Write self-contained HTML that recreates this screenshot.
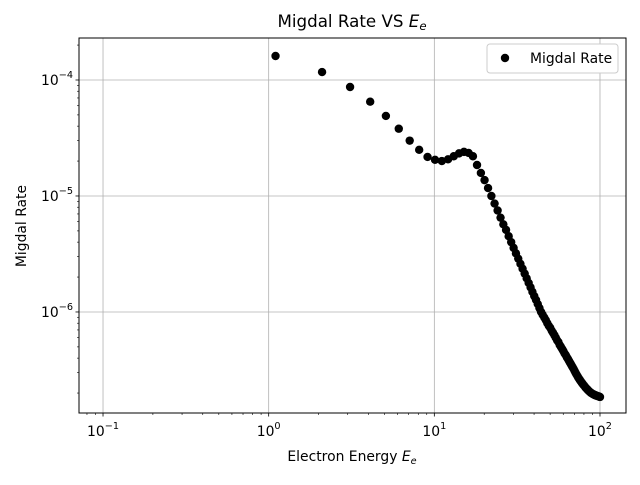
<!DOCTYPE html>
<html><head><meta charset="utf-8"><style>
body{margin:0;background:#fff}
svg text{font-family:"DejaVu Sans","Liberation Sans",sans-serif;fill:#000}
</style></head><body>
<svg id="chart" width="640" height="480" viewBox="0 0 640 480" xmlns="http://www.w3.org/2000/svg">
<rect width="640" height="480" fill="#fff"/>
<g id="grid"></g>
<g id="ticks"></g>
<g id="points"></g>
<rect x="79" y="38" width="547" height="375" fill="none" stroke="#000" stroke-width="1"/>
<text x="352" y="27" font-size="16.7" text-anchor="middle">Migdal Rate VS <tspan font-style="italic">E</tspan><tspan font-style="italic" font-size="11.7" dy="3">e</tspan></text>
<text x="352" y="461" font-size="13.9" text-anchor="middle">Electron Energy <tspan font-style="italic">E</tspan><tspan font-style="italic" font-size="9.7" dy="3">e</tspan></text>
<text transform="translate(26,226) rotate(-90)" font-size="13.9" text-anchor="middle">Migdal Rate</text>
<g>
<rect x="487" y="44" width="131" height="29" rx="3" fill="#fff" stroke="#ccc"/>
<circle cx="505" cy="58" r="4.2" fill="#000"/>
<text x="530" y="63" font-size="13.9">Migdal Rate</text>
</g>
</svg>
<script>
const xVals=[1.1,2.1,3.1,4.1,5.1,6.1,7.1,8.1,9.1,10.1,11.1,12.1,13.1,14.1,15.1,16.1,17.1,18.1,19.1,20.1,21.1,22.1,23.1,24.1,25.1,26.1,27.1,28.1,29.1,30.1,31.1,32.1,33.1,34.1,35.1,36.1,37.1,38.1,39.1,40.1,41.1,42.1,43.1,44.1,45.1,46.1,47.1,48.1,49.1,50.1,51.1,52.1,53.1,54.1,55.1,56.1,57.1,58.1,59.1,60.1,61.1,62.1,63.1,64.1,65.1,66.1,67.1,68.1,69.1,70.1,71.1,72.1,73.1,74.1,75.1,76.1,77.1,78.1,79.1,80.1,81.1,82.1,83.1,84.1,85.1,86.1,87.1,88.1,89.1,90.1,91.1,92.1,93.1,94.1,95.1,96.1,97.1,98.1,99.1,100];
const rateVals=[1.61e-4,1.17e-4,8.7e-5,6.5e-5,4.9e-5,3.8e-5,3.0e-5,2.5e-5,2.17e-5,2.05e-5,2.0e-5,2.07e-5,2.2e-5,2.33e-5,2.4e-5,2.35e-5,2.2e-5,1.85e-5,1.58e-5,1.37e-5,1.17e-5,1.0e-5,8.6e-6,7.5e-6,6.5e-6,5.7e-6,5.1e-6,4.5e-6,4.0e-6,3.57e-6,3.2e-6,2.88e-6,2.6e-6,2.36e-6,2.14e-6,1.95e-6,1.78e-6,1.63e-6,1.49e-6,1.37e-6,1.27e-6,1.17e-6,1.08e-6,1.0e-6,9.45e-7,8.95e-7,8.5e-7,8.0e-7,7.6e-7,7.3e-7,6.9e-7,6.6e-7,6.3e-7,6.0e-7,5.7e-7,5.5e-7,5.2e-7,5.0e-7,4.8e-7,4.6e-7,4.4e-7,4.25e-7,4.07e-7,3.92e-7,3.77e-7,3.63e-7,3.5e-7,3.37e-7,3.25e-7,3.12e-7,3.0e-7,2.9e-7,2.8e-7,2.71e-7,2.63e-7,2.56e-7,2.49e-7,2.43e-7,2.37e-7,2.32e-7,2.27e-7,2.22e-7,2.18e-7,2.14e-7,2.1e-7,2.07e-7,2.04e-7,2.01e-7,1.99e-7,1.97e-7,1.95e-7,1.94e-7,1.92e-7,1.91e-7,1.9e-7,1.89e-7,1.88e-7,1.87e-7,1.86e-7,1.85e-7];
const xTickExps=[-1,0,1,2];
const yTickExps=[-4,-5,-6];
const NS="http://www.w3.org/2000/svg";
const L=79,R=626,T=38,B=413;
const xMin=-1.145,xMax=2.157,yMin=-6.871,yMax=-3.638;
function xs(v){return L+(Math.log10(v)-xMin)/(xMax-xMin)*(R-L);}
function ys(v){return B-(Math.log10(v)-yMin)/(yMax-yMin)*(B-T);}
function mk(tag,a,parent){const e=document.createElementNS(NS,tag);for(const k in a)e.setAttribute(k,a[k]);parent.appendChild(e);return e;}
const grid=document.getElementById('grid'),ticks=document.getElementById('ticks'),pts=document.getElementById('points');
xTickExps.forEach(ex=>{
  const x=xs(Math.pow(10,ex));
  const g=mk('line',{x1:x,x2:x,y1:T,y2:B,stroke:'#b0b0b0','stroke-width':0.8},grid);
  
  
  const t=mk('line',{x1:x,x2:x,y1:B,y2:B+3.5,stroke:'#000','stroke-width':0.8},ticks);
  
  
  const lb=mk('text',{x:x,y:B+23,'font-size':13.9,'text-anchor':'middle'},ticks);
  
  
  lb.innerHTML='10<tspan font-size="9.7" dy="-7">'+(ex<0?'−'+(-ex):ex)+'</tspan>';
});
for(let ex=-2;ex<=2;ex++)for(let m=2;m<=9;m++){const v=m*Math.pow(10,ex);const x=xs(v);if(x<L||x>R)continue;
  const t=mk('line',{x1:x,x2:x,y1:B,y2:B+2,stroke:'#000','stroke-width':0.6},ticks);
  
  }
yTickExps.forEach(ex=>{
  const y=ys(Math.pow(10,ex));
  const g=mk('line',{x1:L,x2:R,y1:y,y2:y,stroke:'#b0b0b0','stroke-width':0.8},grid);
  
  
  const t=mk('line',{x1:L-3.5,x2:L,y1:y,y2:y,stroke:'#000','stroke-width':0.8},ticks);
  
  
  const lb=mk('text',{x:L-6,y:y+5,'font-size':13.9,'text-anchor':'end'},ticks);
  
  
  lb.innerHTML='10<tspan font-size="9.7" dy="-7">−'+(-ex)+'</tspan>';
});
for(let ex=-7;ex<=-4;ex++)for(let m=2;m<=9;m++){const v=m*Math.pow(10,ex);const y=ys(v);if(y<T||y>B)continue;
  const t=mk('line',{x1:L-2,x2:L,y1:y,y2:y,stroke:'#000','stroke-width':0.6},ticks);
  
  }
xVals.forEach((xv,i)=>{
  const c=mk('circle',{cx:xs(xv),cy:ys(rateVals[i]),r:4.2,fill:'#000'},pts);
  
  
});
</script>
</body></html>
